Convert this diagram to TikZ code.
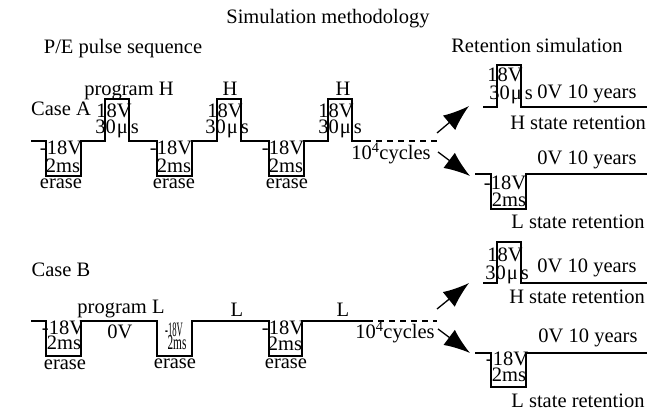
\documentclass[tikz,border=0pt]{standalone}
\usepackage{fontspec}
\setmainfont{Liberation Serif}
\usepackage{graphicx}
\usetikzlibrary{arrows.meta}
\begin{document}
\begin{tikzpicture}[x=1pt,y=-1pt,
  font=\fontsize{20.5pt}{24pt}\selectfont,
  t/.style={inner sep=0pt, text height=13.5pt, text depth=0pt},
  wave/.style={line width=1.2pt, line join=miter},
  dsh/.style={line width=1.2pt, dash pattern=on 6pt off 5pt},
  arr/.style={line width=1.3pt, -{Latex[length=26pt,width=19pt]}}]
\useasboundingbox (0,0) rectangle (663,414);
\newcommand{\mus}{30\kern1ptμ\kern3pt s}
% titles
\node[t] (title) at (328,17) {Simulation methodology};
\node[t] (pe) at (123,47) {P/E pulse sequence};
\node[t] (ret) at (537,46) {Retention simulation};
% ---------------- Case A ----------------
\node[t] (caseA) at (61,109) {Case A};
\node[t] (progH) at (129,89) {program H};
\node[t] (hA2) at (230,89) {H};
\node[t] (hA3) at (343,89) {H};
\draw[wave] (31,141) -- (46,141) -- (46,176) -- (81,176) -- (81,141) -- (105,141) -- (105,99) -- (129,99) -- (129,141)
  -- (157,141) -- (157,176) -- (192,176) -- (192,141) -- (217,141) -- (217,99) -- (241,99) -- (241,141)
  -- (269,141) -- (269,176) -- (304,176) -- (304,141) -- (328,141) -- (328,99) -- (352,99) -- (352,141) -- (365,141);
\draw[dsh] (365,141) -- (437,141);
% program labels
\node[t] (pA1v) at (114,111) {18V};
\node[t] (pA1t) at (117,127) {\mus};
\node[t] (pA2v) at (225,111) {18V};
\node[t] (pA2t) at (227,127) {\mus};
\node[t] (pA3v) at (336,111) {18V};
\node[t] (pA3t) at (340,127) {\mus};
% erase labels
\node[t] (eA1v) at (61,148) {-18V};
\node[t] (eA1t) at (63,166) {2ms};
\node[t] (eA1e) at (61,182) {erase};
\node[t] (eA2v) at (171,148) {-18V};
\node[t] (eA2t) at (174,166) {2ms};
\node[t] (eA2e) at (174,182) {erase};
\node[t] (eA3v) at (283,148) {-18V};
\node[t] (eA3t) at (286,166) {2ms};
\node[t] (eA3e) at (287,182) {erase};
\node[t] (cycA) at (391,153) {10\textsuperscript{4}cycles};
% arrows A
\coordinate (aA1s) at (437,133); \coordinate (aA1e) at (469,106);
\coordinate (aA2s) at (438,152); \coordinate (aA2e) at (470,176);
\draw[arr] (aA1s) -- (aA1e);
\draw[arr] (aA2s) -- (aA2e);
% retention A H
\draw[wave] (483,107) -- (497,107) -- (497,65) -- (521,65) -- (521,107) -- (647,107);
\node[t] (rAHv) at (505,75) {18V};
\node[t] (rAHt) at (511,93) {\mus};
\node[t] (rAHy) at (587,92) {0V 10 years};
\node[t] (rAHs) at (578,123) {H state retention};
% retention A L
\draw[wave] (475,174) -- (491,174) -- (491,209) -- (526,209) -- (526,174) -- (647,174);
\node[t] (rALv) at (505,183) {-18V};
\node[t] (rALt) at (509,200) {2ms};
\node[t] (rALy) at (587,158) {0V 10 years};
\node[t] (rALs) at (578,222) {L state retention};
% ---------------- Case B ----------------
\node[t] (caseB) at (61,270) {Case B};
\node[t] (progL) at (121,307) {program L};
\node[t] (zeroV) at (120,332) {0V};
\node[t] (lB2) at (237,310) {L};
\node[t] (lB3) at (343,310) {L};
\draw[wave] (31,321) -- (46,321) -- (46,356) -- (81,356) -- (81,321) -- (157,321) -- (157,356) -- (192,356) -- (192,321)
  -- (269,321) -- (269,356) -- (302,356) -- (302,321) -- (367,321);
\draw[dsh] (367,321) -- (437,321);
\node[t] (eB1v) at (63,328) {-18V};
\node[t] (eB1t) at (64,343) {2ms};
\node[t] (eB1e) at (65,363) {erase};
\node[t] (eB2v) at (174,330) {\scalebox{0.42}[1]{-18V}};
\node[t] (eB2t) at (177,343) {\scalebox{0.55}[1]{2ms}};
\node[t] (eB2e) at (175,362) {erase};
\node[t] (eB3v) at (283,328) {-18V};
\node[t] (eB3t) at (285,344) {2ms};
\node[t] (eB3e) at (286,362) {erase};
\node[t] (cycB) at (395,332) {10\textsuperscript{4}cycles};
% arrows B
\coordinate (aB1s) at (437,309); \coordinate (aB1e) at (469,283);
\coordinate (aB2s) at (438,329); \coordinate (aB2e) at (470,353);
\draw[arr] (aB1s) -- (aB1e);
\draw[arr] (aB2s) -- (aB2e);
% retention B H
\draw[wave] (483,283) -- (497,283) -- (497,242) -- (521,242) -- (521,283) -- (647,283);
\node[t] (rBHv) at (505,255) {18V};
\node[t] (rBHt) at (507,273) {\mus};
\node[t] (rBHy) at (587,266) {0V 10 years};
\node[t] (rBHs) at (577,297) {H state retention};
% retention B L
\draw[wave] (475,353) -- (491,353) -- (491,387) -- (526,387) -- (526,353) -- (647,353);
\node[t] (rBLv) at (507,359) {-18V};
\node[t] (rBLt) at (509,375) {2ms};
\node[t] (rBLy) at (588,336) {0V 10 years};
\node[t] (rBLs) at (578,401) {L state retention};
\end{tikzpicture}
\end{document}
